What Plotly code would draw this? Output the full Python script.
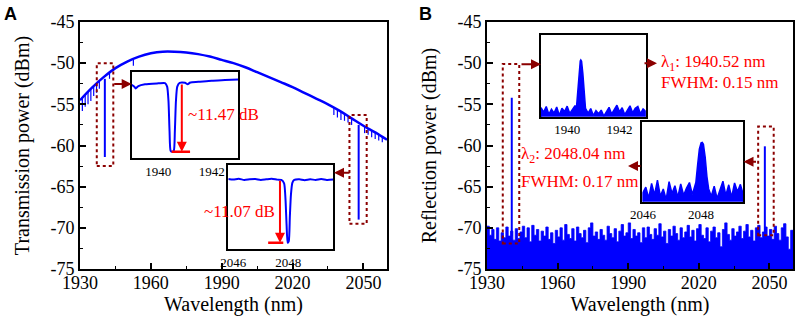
import plotly.graph_objects as go

# ---------------- DATA ----------------
# Panel A: broad transmission envelope (dBm) every 5 nm
wl_env = [1930, 1935, 1940, 1945, 1950, 1955, 1960, 1965, 1970, 1975, 1980, 1985, 1990,
          1995, 2000, 2005, 2010, 2015, 2020, 2025, 2030, 2035, 2040, 2045, 2050, 2055, 2060]
trans_env = [-54.5, -53.0, -51.7, -50.6, -49.8, -49.2, -48.8, -48.6, -48.6, -48.7, -48.9, -49.2,
             -49.6, -50.0, -50.5, -51.1, -51.7, -52.3, -52.9, -53.6, -54.3, -55.0, -55.8,
             -56.7, -57.6, -58.4, -59.3]
# small absorption spikes on the envelope
abs_wl = [1931.0, 1932.2, 1933.4, 1934.6, 1935.8, 1937.0, 1938.2, 1942.5, 1952.6,
          2037.5, 2039.0, 2040.5, 2042.0, 2043.5, 2045.0, 2050.5, 2052.0, 2053.5, 2055.0, 2056.5, 2058.0]
abs_top = [-54.2, -53.8, -53.5, -53.2, -52.9, -52.5, -52.2, -51.2, -49.6,
           -55.4, -55.65, -55.9, -56.15, -56.4, -56.7, -57.7, -57.9, -58.15, -58.4, -58.65, -58.95]
abs_bot = [-55.8, -55.3, -55.0, -54.6, -54.0, -53.6, -53.1, -51.9, -50.3,
           -56.3, -56.6, -56.9, -57.0, -57.2, -57.5, -58.5, -58.7, -59.0, -59.2, -59.4, -59.6]
# FBG notches in panel A
dip_wl = [1940.52, 2048.0]
dip_top = [-51.9, -57.5]
dip_bot = [-61.4, -69.0]

# Inset A1 (around 1940.52 nm)
insA1_wl = [1939.0, 1939.1, 1939.15, 1939.25, 1939.5, 1940.0, 1940.25, 1940.33, 1940.38, 1940.42,
            1940.46, 1940.52, 1940.58, 1940.62, 1940.66, 1940.71, 1940.8, 1941.0, 1941.1, 1941.2,
            1941.5, 1942.0, 1942.5, 1943.0]
insA1_pw = [-52.3, -52.6, -52.9, -52.5, -52.2, -52.05, -52.0, -52.6, -55.0, -60.0,
            -63.3, -63.47, -63.3, -60.0, -55.0, -52.6, -51.95, -51.95, -52.2, -51.9,
            -51.8, -51.6, -51.5, -51.4]
# Inset A2 (around 2048 nm)
insA2_wl = [2045.82, 2046.0, 2046.2, 2046.4, 2046.6, 2046.8, 2047.0, 2047.2, 2047.4, 2047.6, 2047.75,
            2047.85, 2047.9, 2047.94, 2047.98, 2048.02, 2048.06, 2048.1, 2048.15, 2048.22, 2048.4,
            2048.6, 2048.8, 2049.0, 2049.2, 2049.4, 2049.64]
insA2_pw = [-57.55, -57.65, -57.5, -57.7, -57.6, -57.55, -57.7, -57.6, -57.5, -57.65, -57.7,
            -58.3, -61.0, -65.5, -68.67, -68.4, -64.0, -60.2, -58.2, -57.7, -57.6,
            -57.75, -57.6, -57.7, -57.55, -57.7, -57.65]

# Panel B: reflection noise floor, 1 nm steps 1930..2060
wl_noise = list(range(1930, 2061))
refl_noise = [
    -69.8, -70.9, -70.2, -71.4, -70.0, -71.6, -70.6, -71.2, -69.9, -71.0,
    -70.4, -71.5, -70.1, -71.3, -70.5, -69.8, -71.2, -70.0, -71.7, -69.7,
    -70.9, -70.2, -71.6, -70.4, -71.0, -69.9, -71.4, -70.6, -71.9, -70.3,
    -71.1, -70.0, -71.5, -69.6, -70.8, -71.3, -70.1, -71.6, -69.9, -70.7,
    -71.2, -70.3, -71.8, -70.0, -69.4, -71.0, -70.5, -71.4, -70.2, -70.9,
    -71.5, -69.8, -70.7, -71.2, -70.1, -71.7, -70.4, -69.6, -71.0, -70.6,
    -69.4, -71.3, -70.2, -71.0, -70.6, -71.8, -70.0, -71.2, -69.9, -70.8,
    -71.4, -70.1, -70.9, -69.5, -71.1, -70.4, -71.9, -70.2, -71.0, -69.8,
    -70.7, -71.5, -70.0, -71.2, -70.5, -69.7, -71.1, -70.3, -71.6, -70.1,
    -69.6, -70.9, -71.3, -70.0, -71.7, -70.4, -69.9, -71.2, -70.6, -72.3,
    -70.2, -69.4, -70.8, -71.5, -70.1, -71.0, -70.5, -69.8, -71.3, -70.4,
    -69.6, -71.1, -70.3, -71.6, -70.0, -69.7, -71.2, -70.5, -69.9, -71.0,
    -70.2, -71.4, -69.8, -70.7, -71.5, -70.0, -69.5, -71.1, -72.6, -70.3, -71.0]
peak_wl = [1940.52, 2048.04]
peak_base = [-71.0, -70.5]
peak_top = [-54.2, -60.1]

# Inset B1
insB1_wl = [1939.0, 1939.1, 1939.2, 1939.3, 1939.4, 1939.5, 1939.6, 1939.7, 1939.8, 1939.9, 1940.0,
            1940.1, 1940.2, 1940.3, 1940.35, 1940.4, 1940.45, 1940.5, 1940.52, 1940.55, 1940.6,
            1940.65, 1940.7, 1940.8, 1940.9, 1941.0, 1941.1, 1941.2, 1941.3, 1941.4, 1941.5,
            1941.6, 1941.7, 1941.8, 1941.9, 1942.0, 1942.1, 1942.2, 1942.3, 1942.4, 1942.5,
            1942.6, 1942.7, 1942.8, 1942.9, 1943.0]
insB1_pw = [-70.0, -71.5, -69.6, -72.2, -70.5, -71.8, -69.8, -72.5, -70.2, -71.3, -69.5,
            -71.9, -70.4, -69.3, -70.5, -65.0, -58.5, -54.5, -54.2, -54.6, -58.8,
            -65.5, -70.2, -71.8, -70.3, -72.6, -71.0, -72.0, -70.8, -72.8, -71.2,
            -69.9, -72.1, -70.6, -69.2, -71.4, -70.0, -72.3, -70.9, -69.4, -71.7,
            -70.2, -69.6, -72.0, -70.4, -71.2]
# Inset B2
insB2_wl = [2046.0, 2046.1, 2046.2, 2046.3, 2046.4, 2046.5, 2046.6, 2046.7, 2046.8, 2046.9, 2047.0,
            2047.1, 2047.2, 2047.3, 2047.4, 2047.5, 2047.6, 2047.7, 2047.75, 2047.82, 2047.88,
            2047.94, 2048.0, 2048.04, 2048.08, 2048.14, 2048.2, 2048.26, 2048.35, 2048.45, 2048.55,
            2048.65, 2048.75, 2048.85, 2048.95, 2049.05, 2049.15, 2049.25, 2049.35, 2049.45]
insB2_pw = [-71.0, -69.8, -72.2, -69.0, -71.5, -68.3, -71.8, -70.2, -72.5, -68.6, -71.2,
            -69.5, -72.0, -69.1, -71.6, -70.0, -68.8, -71.4, -70.5, -68.8, -65.0,
            -61.5, -60.1, -60.0, -60.4, -63.2, -67.5, -70.2, -71.8, -69.6, -72.3,
            -70.4, -68.5, -71.6, -69.3, -72.0, -68.9, -70.8, -69.2, -71.5]

# tick labels
y_ticks = [-75, -70, -65, -60, -55, -50, -45]
y_ticktext = ['-75', '-70', '-65', '-60', '-55', '-50', '-45']
x_ticks = [1930, 1960, 1990, 2020, 2050]
x_ticktext = ['1930', '1960', '1990', '2020', '2050']

# ---------------- STYLE ----------------
BLUE = '#0000FF'
DRED = '#8B0000'
RED = '#FF0000'
SERIF = 'Liberation Serif'
W, H = 796, 317

def px(xp):
    return xp / W

def py(yp):
    return 1 - yp / H

def segs(xs, y0s, y1s):
    X, Y = [], []
    for a, b, c in zip(xs, y0s, y1s):
        X += [a, a, None]
        Y += [b, c, None]
    return X, Y

fig = go.Figure()

# Panel A
fig.add_trace(go.Scatter(x=wl_env, y=trans_env, mode='lines', line=dict(color=BLUE, width=2.5, shape='spline'),
                         xaxis='x', yaxis='y'))
X, Y = segs(abs_wl, abs_top, abs_bot)
fig.add_trace(go.Scatter(x=X, y=Y, mode='lines', line=dict(color=BLUE, width=1.2), xaxis='x', yaxis='y'))
X, Y = segs(dip_wl, dip_top, dip_bot)
fig.add_trace(go.Scatter(x=X, y=Y, mode='lines', line=dict(color=BLUE, width=2), xaxis='x', yaxis='y'))

# Panel B
fig.add_trace(go.Scatter(x=[wl_noise[0]] + wl_noise + [wl_noise[-1]], y=[-80] + refl_noise + [-80],
                         mode='lines', fill='toself', fillcolor=BLUE, line=dict(color=BLUE, width=0.8, shape='hv'),
                         xaxis='x2', yaxis='y2'))
X, Y = segs(peak_wl, peak_base, peak_top)
fig.add_trace(go.Scatter(x=X, y=Y, mode='lines', line=dict(color=BLUE, width=2), xaxis='x2', yaxis='y2'))

# Insets
fig.add_trace(go.Scatter(x=insA1_wl, y=insA1_pw, mode='lines', line=dict(color=BLUE, width=2, shape='spline', smoothing=0.6),
                         xaxis='x3', yaxis='y3'))
fig.add_trace(go.Scatter(x=insA2_wl, y=insA2_pw, mode='lines', line=dict(color=BLUE, width=2, shape='spline', smoothing=0.6),
                         xaxis='x4', yaxis='y4'))
fig.add_trace(go.Scatter(x=[insB1_wl[0]] + insB1_wl + [insB1_wl[-1]], y=[-80] + insB1_pw + [-80],
                         mode='lines', fill='toself', fillcolor=BLUE, line=dict(color=BLUE, width=1.5),
                         xaxis='x5', yaxis='y5'))
fig.add_trace(go.Scatter(x=[insB2_wl[0]] + insB2_wl + [insB2_wl[-1]], y=[-80] + insB2_pw + [-80],
                         mode='lines', fill='toself', fillcolor=BLUE, line=dict(color=BLUE, width=1.5),
                         xaxis='x6', yaxis='y6'))

tickfont = dict(family=SERIF, size=18, color='black')
titlefont = dict(family=SERIF, size=20, color='black')

def main_x(dom, anchor):
    return dict(domain=dom, anchor=anchor, range=[1930, 2060], tickvals=x_ticks, ticktext=x_ticktext,
                ticks='inside', ticklen=6, tickwidth=1.5, tickcolor='black', automargin=False,
                ticklabelstandoff=-3,
                minor=dict(dtick=15, tick0=1930, ticks='inside', ticklen=3.5, tickwidth=1.2, tickcolor='black'),
                showline=True, mirror=True, linecolor='black', linewidth=1.6, showgrid=False, zeroline=False,
                tickfont=tickfont, title=dict(text='Wavelength (nm)', font=titlefont, standoff=4))

def main_y(dom, anchor, title):
    return dict(domain=dom, anchor=anchor, range=[-75, -45], tickvals=y_ticks, ticktext=y_ticktext,
                ticks='inside', ticklen=6, tickwidth=1.5, tickcolor='black', automargin=False,
                minor=dict(dtick=2.5, tick0=-75, ticks='inside', ticklen=3.5, tickwidth=1.2, tickcolor='black'),
                showline=True, mirror=True, linecolor='black', linewidth=1.6, showgrid=False, zeroline=False,
                tickfont=tickfont, title=dict(text=title, font=titlefont, standoff=16))

def inset_x(dom, anchor, rng, tv):
    return dict(domain=dom, anchor=anchor, range=rng, tickvals=tv, ticktext=[str(t) for t in tv],
                ticks='', showline=True, mirror=True, linecolor='black', linewidth=1.5, automargin=False,
                showgrid=False, zeroline=False, tickfont=dict(family=SERIF, size=13, color='black'))

def inset_y(dom, anchor, rng):
    return dict(domain=dom, anchor=anchor, range=rng, showticklabels=False, ticks='', automargin=False,
                showline=True, mirror=True, linecolor='black', linewidth=1.5, showgrid=False, zeroline=False)

ydom = [py(269), py(22)]
fig.update_layout(
    width=W, height=H, margin=dict(l=0, r=0, t=0, b=0, autoexpand=False),
    paper_bgcolor='white', plot_bgcolor='white', showlegend=False,
    xaxis=main_x([px(80), px(387)], 'y'),
    yaxis=main_y(ydom, 'x', 'Transmission power (dBm)'),
    xaxis2=main_x([px(487), px(793)], 'y2'),
    yaxis2=main_y(ydom, 'x2', 'Reflection power (dBm)'),
    xaxis3=inset_x([px(131.7), px(238.3)], 'y3', [1939, 1943], [1940, 1942]),
    yaxis3=inset_y([py(158.3), py(71.7)], 'x3', [-64.57, -50.1]),
    xaxis4=inset_x([px(228.3), px(333.3)], 'y4', [2045.82, 2049.64], [2046, 2048]),
    yaxis4=inset_y([py(249.3), py(165)], 'x4', [-69.8, -55.1]),
    xaxis5=inset_x([px(541), px(645.7)], 'y5', [1939, 1943], [1940, 1942]),
    yaxis5=inset_y([py(116.7), py(35)], 'x5', [-73, -45.9]),
    xaxis6=inset_x([px(642.3), px(743.3)], 'y6', [2045.98, 2049.45], [2046, 2048]),
    yaxis6=inset_y([py(201.7), py(122.3)], 'x6', [-73, -55.6]),
)

# dotted highlight boxes
for xr, yr, x0, x1, y0, y1 in [('x', 'y', 1937.1, 1944.1, -62.5, -50.0),
                               ('x', 'y', 2044.1, 2051.4, -69.5, -56.3),
                               ('x2', 'y2', 1936.7, 1943.7, -71.9, -50.1),
                               ('x2', 'y2', 2045.2, 2051.8, -70.9, -57.7)]:
    fig.add_shape(type='rect', xref=xr, yref=yr, x0=x0, x1=x1, y0=y0, y1=y1,
                  line=dict(color=DRED, width=2, dash='dot'))

# dark red pointer arrows (paper coords)
for xp, yp, ax in [(131.7, 84, -19), (334, 172.7, 17), (541, 64.3, -21), (657, 63.3, -14),
                   (628, 166, 14), (743.5, 161.7, 14)]:
    fig.add_annotation(x=px(xp), y=py(yp), xref='paper', yref='paper', text='', showarrow=True,
                       ax=ax, ay=0, arrowhead=2, arrowsize=1, arrowwidth=2, arrowcolor=DRED)

# red depth arrows inside insets
fig.add_annotation(x=1940.88, y=-63.47, xref='x3', yref='y3', ax=1940.88, ay=-52.0, axref='x3', ayref='y3',
                   text='', showarrow=True, arrowhead=2, arrowsize=1, arrowwidth=2, arrowcolor=RED)
fig.add_shape(type='line', xref='x3', yref='y3', x0=1940.5, x1=1941.19, y0=-63.47, y1=-63.47,
              line=dict(color=RED, width=2.5))
fig.add_annotation(x=2047.7, y=-68.67, xref='x4', yref='y4', ax=2047.7, ay=-57.6, axref='x4', ayref='y4',
                   text='', showarrow=True, arrowhead=2, arrowsize=1, arrowwidth=2, arrowcolor=RED)
fig.add_shape(type='line', xref='x4', yref='y4', x0=2047.27, x1=2047.82, y0=-68.67, y1=-68.67,
              line=dict(color=RED, width=2.5))

redfont = dict(family=SERIF, size=17, color=RED)
texts = [(186, 115, '~11.47 dB', 'left'), (277, 211, '~11.07 dB', 'right'),
         (659, 63.3, 'λ<sub>1</sub>: 1940.52 nm', 'left'), (659, 82.5, 'FWHM: 0.15 nm', 'left'),
         (519, 155, 'λ<sub>2</sub>: 2048.04 nm', 'left'), (519, 181, 'FWHM: 0.17 nm', 'left')]
for xp, yp, t, anc in texts:
    fig.add_annotation(x=px(xp), y=py(yp), xref='paper', yref='paper', text=t, showarrow=False,
                       xanchor=anc, yanchor='middle', font=redfont)

# panel letters
for xp, t in [(2, 'A'), (417, 'B')]:
    fig.add_annotation(x=px(xp), y=py(2), xref='paper', yref='paper', text='<b>%s</b>' % t, showarrow=False,
                       xanchor='left', yanchor='top', font=dict(family='Liberation Sans', size=18, color='black'))

fig.write_html('out.html', config={'displayModeBar': False},
               post_script="document.body.style.margin='0px';document.body.style.overflow='hidden';")
